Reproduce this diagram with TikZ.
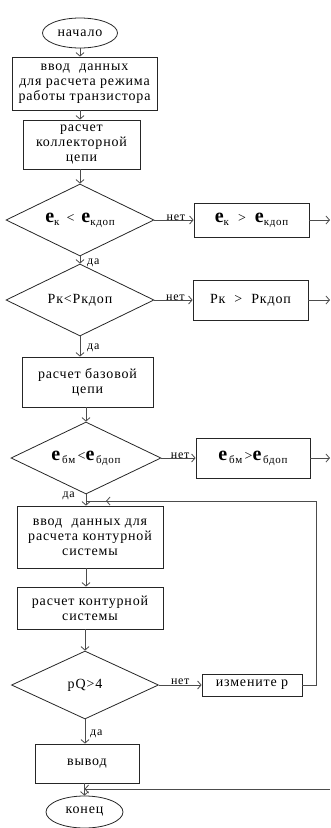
\documentclass[tikz,border=0pt]{standalone}
\usepackage{fontspec}
\setmainfont{Liberation Serif}[LetterSpace=6]
\usetikzlibrary{shapes.geometric, arrows.meta, decorations.markings, calc}
\newcommand{\myE}{{\fontsize{20}{20}\selectfont\bfseries e}}
\newcommand{\mysub}[1]{\raisebox{-3pt}{\fontsize{11}{11}\selectfont #1}}
\begin{document}
\begin{tikzpicture}[x=1pt, y=-1pt,
  txt/.style={font=\fontsize{14}{15}\selectfont, align=center, inner sep=0pt},
  box/.style={txt, draw=black!85, line width=0.8pt, rectangle},
  dia/.style={txt, draw=black!85, line width=0.8pt, diamond},
  term/.style={txt, draw=black!85, line width=0.8pt, ellipse},
  line/.style={draw=black!70, line width=0.8pt},
  arr/.style={line, -{Straight Barb[length=3.5pt,width=8pt]}},
  lbl/.style={font=\fontsize{12}{12}\selectfont, inner sep=1pt},
  markarrow/.style={postaction={decorate}, decoration={markings, mark=at position -20pt with {\arrow{Straight Barb[length=3.5pt,width=8pt]}}}}
]
\useasboundingbox (0,0) rectangle (330,828);

% main column
\node[term, minimum width=75pt, minimum height=30pt] (start) at (80,33) {начало};
\node[box, minimum width=145pt, minimum height=53pt] (b1) at (84.5,83.5)
  {ввод\hspace{5pt} данных\\для расчета режима\\работы транзистора};
\node[box, minimum width=117pt, minimum height=49pt] (b2) at (81.5,144.5)
  {расчет\\коллекторной\\цепи};
\node[dia, minimum width=148pt, minimum height=72pt, aspect=2.05] (d1) at (80,220)
  {\myE\mysub{к}\hspace{7pt}<\hspace{7pt}\myE\mysub{кдоп}};
\node[dia, minimum width=148pt, minimum height=72pt, aspect=2.05] (d2) at (80,300)
  {Рк<Ркдоп};
\node[box, minimum width=131pt, minimum height=50pt] (b3) at (87.5,382)
  {расчет базовой\\цепи};
\node[dia, minimum width=150pt, minimum height=72pt, aspect=2.08] (d3) at (86,458)
  {\myE\mysub{\,бм}\,<\myE\mysub{\,бдоп}};
\node[box, minimum width=146pt, minimum height=62pt] (b4) at (90,537)
  {ввод\hspace{5pt} данных для\\расчета контурной\\системы};
\node[box, minimum width=146pt, minimum height=42pt] (b5) at (90,608)
  {расчет контурной\\системы};
\node[dia, minimum width=147pt, minimum height=68pt, aspect=2.16] (d4) at (85,685)
  {pQ>4};
\node[box, minimum width=104pt, minimum height=39pt] (b6) at (87,763.5) {вывод};
\node[term, minimum width=77pt, minimum height=32pt] (end) at (84.5,812) {конец};

% side boxes
\node[box, minimum width=115pt, minimum height=34pt] (e1) at (251.5,220)
  {\myE\mysub{к}\hspace{9pt}>\hspace{9pt}\myE\mysub{кдоп}};
\node[box, minimum width=115pt, minimum height=40pt] (e2) at (250.5,300)
  {Рк\hspace{9pt}>\hspace{9pt}Ркдоп};
\node[box, minimum width=114pt, minimum height=40pt] (e3) at (253,458)
  {\myE\mysub{\,бм}\,>\myE\mysub{\,бдоп}};
\node[box, minimum width=100pt, minimum height=22pt] (e4) at (252,685) {измените р};

% main arrows
\draw[arr] (start.south) -- (start.south |- b1.north);
\draw[arr] (b1.south -| start) -- (start |- b2.north);
\draw[arr] (b2.south -| d1) -- (d1.north);
\draw[arr] (d1.south) -- (d2.north);
\draw[arr] (d2.south) -- (d2.south |- b3.north);
\draw[arr] (b3.south -| d3) -- (d3.north);
\draw[arr] (d3.south) -- (d3.south |- b4.north);
\draw[arr] (b4.south -| d3) -- (d3 |- b5.north);
\draw[arr] (b5.south -| d4) -- (d4.north);
\draw[arr] (d4.south) -- (d4.south |- b6.north);
\draw[arr] (b6.south -| end) -- (end.north);

% yes labels
\node[lbl, anchor=west] at ([xshift=6pt,yshift=-6pt]d1.south) {да};
\node[lbl, anchor=west] at ([xshift=6pt,yshift=-11pt]d2.south) {да};
\node[lbl, anchor=east] at ([xshift=-10pt,yshift=-1pt]d3.south) {да};
\node[lbl, anchor=west] at ([xshift=4pt,yshift=-14pt]d4.south) {да};

% no branches
\draw[arr] (d1.east) -- node[lbl, pos=0.55, above, yshift=-2pt] {нет} (e1.west);
\draw[arr] (d2.east) -- node[lbl, pos=0.55, above, yshift=-2pt] {нет} (e2.west);
\draw[arr] (d3.east) -- node[lbl, pos=0.55, above, yshift=-2pt] {нет} (e3.west);
\draw[arr] (d4.east) -- node[lbl, pos=0.5, above, yshift=-1pt] {нет} (e4.west);

% outgoing arrows to the right edge
\coordinate (rEdge) at (330,0);
\draw[arr] (e1.east) -- (e1.east -| rEdge);
\draw[arr] (e2.east) -- (e2.east -| rEdge);
\draw[arr] (e3.east) -- (e3.east -| rEdge);

% loop back from "измените р"
\coordinate (loopR) at (316,501);
\coordinate (loopL) at (86,501);
\draw[line, markarrow] (e4.east) -| (loopR) -- (loopL);

% bottom return line
\coordinate (botR) at (330,789);
\draw[arr] (botR) -- (botR -| end);
\end{tikzpicture}
\end{document}
